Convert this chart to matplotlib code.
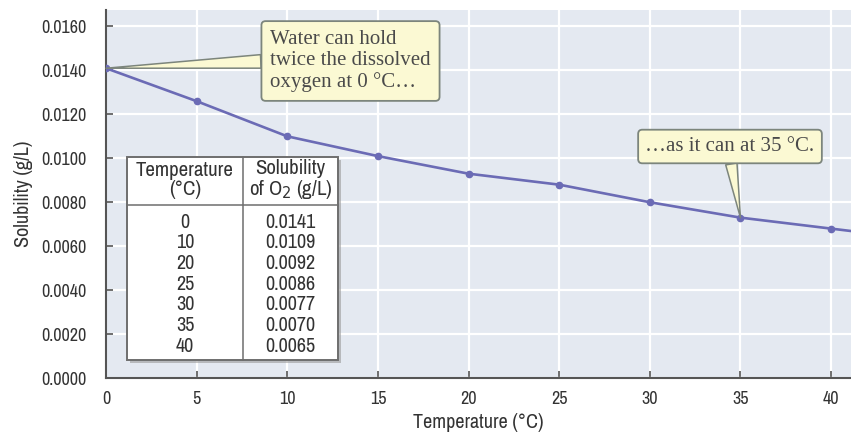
import matplotlib
matplotlib.use('Agg')
import matplotlib.pyplot as plt
from matplotlib.patches import Rectangle
from matplotlib.lines import Line2D

# plotted curve
temps = [0, 5, 10, 15, 20, 25, 30, 35, 40]
solub = [0.0141, 0.0126, 0.0110, 0.0101, 0.0093, 0.0088, 0.0080, 0.0073, 0.0068]
# curve keeps going past the last marker to the edge of the plot
tail_t = [42]
tail_s = [0.0066]

# inset table
tbl_temps = ['0', '10', '20', '25', '30', '35', '40']
tbl_sol = ['0.0141', '0.0109', '0.0092', '0.0086', '0.0077', '0.0070', '0.0065']

xticks = list(range(0, 45, 5))
yticks = [0.0, 0.002, 0.004, 0.006, 0.008, 0.010, 0.012, 0.014, 0.016]

W, H = 851, 436
SANS = ['Archivo Narrow', 'DejaVu Sans']
SERIF = ['Liberation Serif', 'DejaVu Serif']
plt.rcParams['font.family'] = SANS

bg = '#e4e9f1'
line_col = '#6b6bb5'
dark = '#333333'
box_face = '#fbf9d3'
box_edge = '#7c857c'

def fx(px):
    return px / W

def fy(py):
    return 1 - py / H

fig = plt.figure(figsize=(W / 100, H / 100), dpi=100)
ax = fig.add_axes([fx(106), fy(378), 1 - fx(106), fy(10) - fy(378)])
ax.set_facecolor(bg)

ax.plot(temps + tail_t, solub + tail_s, color=line_col, lw=1.9,
        marker='o', ms=4.5, markevery=list(range(len(temps))), zorder=3,
        solid_capstyle='round')

ax.set_xlim(0, 41.1)
ax.set_ylim(0, 0.01675)
ax.set_xticks(xticks)
ax.set_yticks(yticks)
ax.set_yticklabels(['%.4f' % v for v in yticks])
ax.grid(True, color='white', lw=1.6)
ax.set_axisbelow(True)
for s in ['top', 'right']:
    ax.spines[s].set_visible(False)
for s in ['left', 'bottom']:
    ax.spines[s].set_color('#555555')
    ax.spines[s].set_linewidth(1.5)
ax.tick_params(direction='in', length=5, width=1.2, color='#555555',
               labelsize=13, labelcolor=dark)
ax.tick_params(axis='y', pad=14)
ax.tick_params(axis='x', pad=9)
ax.set_xlabel('Temperature (°C)', fontsize=14.5, color=dark, labelpad=5)
ax.set_ylabel('Solubility (g/L)', fontsize=14.5, color=dark, labelpad=6)

# callouts
ax.annotate('Water can hold\ntwice the dissolved\noxygen at 0 °C…',
            xy=(temps[0], solub[0]), xycoords='data',
            xytext=(fx(350.5), fy(61)), textcoords='figure fraction',
            ha='center', va='center', multialignment='left',
            family=SERIF, fontsize=15, color='#4a4a4a', linespacing=1.15,
            bbox=dict(boxstyle='round,pad=0.42,rounding_size=0.2',
                      fc=box_face, ec=box_edge, lw=1.3),
            arrowprops=dict(arrowstyle='wedge,tail_width=0.65',
                            fc=box_face, ec=box_edge, lw=1.1,
                            shrinkA=0, shrinkB=0, relpos=(0.0, 0.5)),
            zorder=5)
ax.annotate('…as it can at 35 °C.',
            xy=(temps[7], solub[7]), xycoords='data',
            xytext=(fx(730), fy(146.5)), textcoords='figure fraction',
            ha='center', va='center',
            family=SERIF, fontsize=15, color='#4a4a4a',
            bbox=dict(boxstyle='round,pad=0.35,rounding_size=0.2',
                      fc=box_face, ec=box_edge, lw=1.3),
            arrowprops=dict(arrowstyle='wedge,tail_width=0.55',
                            fc=box_face, ec=box_edge, lw=1.1,
                            shrinkA=0, shrinkB=0, relpos=(0.5, 0.0)),
            zorder=5)

# inset data table
tl, tr, tt, tb = 127, 338, 157, 360
tmid = 243
head_y = 205
tf = fig.transFigure
fig.patches.append(Rectangle((fx(tl + 3), fy(tb + 3)), fx(tr - tl), fy(tt) - fy(tb),
                             transform=tf, fc='#9a9a9a', ec='none', alpha=0.6, zorder=6))
fig.patches.append(Rectangle((fx(tl), fy(tb)), fx(tr - tl), fy(tt) - fy(tb),
                             transform=tf, fc='white', ec='#6e6e6e', lw=1.4, zorder=7))
fig.add_artist(Line2D([fx(tmid), fx(tmid)], [fy(tt), fy(tb)], transform=tf,
                      color='#6e6e6e', lw=1.1, zorder=8))
fig.add_artist(Line2D([fx(tl), fx(tr)], [fy(head_y), fy(head_y)], transform=tf,
                      color='#6e6e6e', lw=1.1, zorder=8))

c1 = (tl + tmid) / 2
c2 = (tmid + tr) / 2
fig.text(fx(c1), fy(180), 'Temperature\n(°C)', ha='center', va='center',
         fontsize=15, color=dark, linespacing=1.0, zorder=9)
fig.text(fx(c2), fy(180), 'Solubility\nof O$_2$ (g/L)', ha='center', va='center',
         fontsize=15, color=dark, linespacing=1.0, zorder=9)
row0, drow = 222, 20.7
for i in range(len(tbl_temps)):
    y = row0 + i * drow
    fig.text(fx(c1), fy(y), tbl_temps[i], ha='center', va='center',
             fontsize=14.5, color=dark, zorder=9)
    fig.text(fx(c2), fy(y), tbl_sol[i], ha='center', va='center',
             fontsize=14.5, color=dark, zorder=9)

fig.savefig('out.png', dpi=100, facecolor='white')
